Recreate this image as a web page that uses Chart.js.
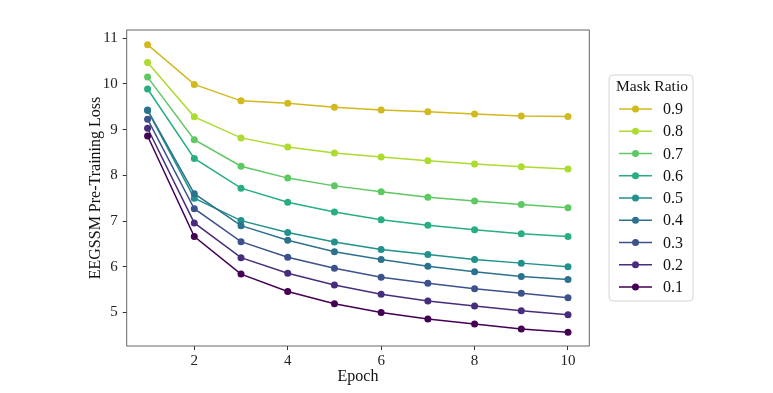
<!DOCTYPE html>
<html>
<head>
<meta charset="utf-8">
<script src="https://cdn.jsdelivr.net/npm/chart.js@4/dist/chart.umd.min.js"></script>
<style>
  html, body { margin: 0; padding: 0; background: #fff; }
</style>
</head>
<body>
<canvas id="chart" width="773" height="393"></canvas>
<script>
// Epochs and mask ratios
const epochs = [1, 2, 3, 4, 5, 6, 7, 8, 9, 10];
const maskRatios = ["0.9", "0.8", "0.7", "0.6", "0.5", "0.4", "0.3", "0.2", "0.1"];

// Pre-training loss per mask ratio
const loss09 = [10.86, 9.99, 9.63, 9.58, 9.49, 9.43, 9.39, 9.34, 9.30, 9.29];
const loss08 = [10.47, 9.28, 8.82, 8.62, 8.49, 8.40, 8.32, 8.25, 8.19, 8.14];
const loss07 = [10.15, 8.78, 8.20, 7.94, 7.77, 7.64, 7.52, 7.44, 7.36, 7.29];
const loss06 = [9.89, 8.37, 7.72, 7.41, 7.20, 7.03, 6.91, 6.81, 6.72, 6.66];
const loss05 = [9.42, 7.50, 7.01, 6.75, 6.54, 6.38, 6.27, 6.16, 6.08, 6.00];
const loss04 = [9.43, 7.60, 6.90, 6.58, 6.33, 6.16, 6.01, 5.89, 5.79, 5.72];
const loss03 = [9.23, 7.27, 6.55, 6.21, 5.97, 5.77, 5.64, 5.52, 5.42, 5.32];
const loss02 = [9.03, 6.96, 6.20, 5.86, 5.60, 5.40, 5.25, 5.14, 5.04, 4.95];
const loss01 = [8.86, 6.66, 5.84, 5.46, 5.19, 5.00, 4.86, 4.75, 4.64, 4.57];

const allLoss = [loss09, loss08, loss07, loss06, loss05, loss04, loss03, loss02, loss01];
const colors = ["#d2b91f", "#addc30", "#5ec962", "#28ae80", "#21918c", "#2c728e", "#3b528b", "#472d7b", "#440154"];

const xTicks = [2, 4, 6, 8, 10];
const yTicks = [5, 6, 7, 8, 9, 10, 11];

const serif = "'Liberation Serif', 'Times New Roman', serif";

// Box around the plot plus a matplotlib-like legend on the right
const framePlugin = {
  id: "frame",
  afterDraw(chart) {
    const { ctx, chartArea: a } = chart;
    ctx.save();
    ctx.strokeStyle = "#666";
    ctx.lineWidth = 1;
    ctx.strokeRect(a.left, a.top, a.right - a.left, a.bottom - a.top);

    // legend box
    const bx = 609, by = 75, bw = 84, bh = 226;
    ctx.fillStyle = "rgba(255,255,255,0.8)";
    ctx.strokeStyle = "#d6d6d6";
    ctx.beginPath();
    ctx.roundRect(bx, by, bw, bh, 4);
    ctx.fill();
    ctx.stroke();

    ctx.fillStyle = "#111";
    ctx.font = "15.5px " + serif;
    ctx.textAlign = "center";
    ctx.textBaseline = "middle";
    ctx.fillText("Mask Ratio", bx + bw / 2 + 1, by + 12);

    ctx.font = "16px " + serif;
    chart.data.datasets.forEach((ds, i) => {
      const y = 109 + i * 22.25;
      ctx.strokeStyle = ds.borderColor;
      ctx.lineWidth = 1.5;
      ctx.beginPath();
      ctx.moveTo(619, y);
      ctx.lineTo(652, y);
      ctx.stroke();
      ctx.fillStyle = ds.borderColor;
      ctx.beginPath();
      ctx.arc(635.5, y, 3.5, 0, Math.PI * 2);
      ctx.fill();
      ctx.fillStyle = "#111";
      ctx.textAlign = "left";
      ctx.fillText(ds.label, 663, y + 1);
    });
    ctx.restore();
  }
};

new Chart(document.getElementById("chart"), {
  type: "line",
  data: {
    datasets: maskRatios.map((r, i) => ({
      label: r,
      data: epochs.map((e, j) => ({ x: e, y: allLoss[i][j] })),
      borderColor: colors[i],
      backgroundColor: colors[i],
      borderWidth: 1.5,
      pointRadius: 3.5,
      pointBorderWidth: 0,
      tension: 0,
      order: 9 - i
    }))
  },
  options: {
    responsive: false,
    animation: false,
    layout: { padding: { left: 0, right: 183.7, top: 30, bottom: 0 } },
    plugins: {
      legend: { display: false },
      tooltip: { enabled: false }
    },
    scales: {
      x: {
        type: "linear",
        min: 0.553,
        max: 10.456,
        afterBuildTicks: (s) => { s.ticks = xTicks.map((v) => ({ value: v })); },
        afterFit: (s) => { s.height = 47; },
        grid: { drawOnChartArea: false, tickLength: 4, color: "#333" },
        border: { display: false },
        ticks: { font: { family: serif, size: 15 }, color: "#222", padding: 2, maxRotation: 0 },
        title: { display: true, text: "Epoch", font: { family: serif, size: 16 }, color: "#111", padding: { top: 0, bottom: 7 } }
      },
      y: {
        min: 4.267,
        max: 11.18,
        afterBuildTicks: (s) => { s.ticks = yTicks.map((v) => ({ value: v })); },
        afterFit: (s) => { s.width = 126.7; },
        grid: { drawOnChartArea: false, tickLength: 4, color: "#333" },
        border: { display: false },
        ticks: { font: { family: serif, size: 15 }, color: "#222", padding: 5 },
        title: { display: true, text: "EEGSSM Pre-Training Loss", font: { family: serif, size: 16 }, color: "#111", padding: { top: 86, bottom: 0 } }
      }
    }
  },
  plugins: [framePlugin]
});
</script>
</body>
</html>
